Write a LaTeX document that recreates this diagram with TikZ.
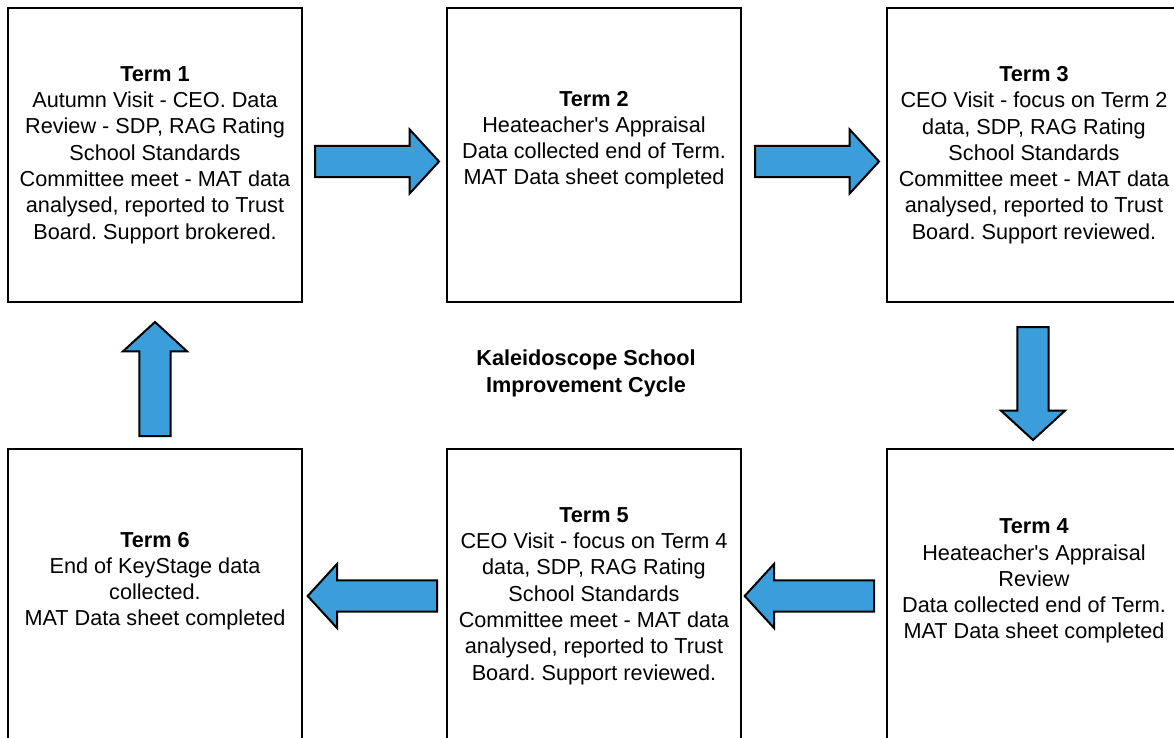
\documentclass[tikz,border=0pt]{standalone}
\usepackage{fontspec}
\setmainfont{Liberation Sans}
\frenchspacing
\usepackage{tikz}
\usetikzlibrary{shapes.arrows,positioning,calc}
\definecolor{arrowblue}{RGB}{59,157,217}
\tikzset{
	termnode/.style = {rectangle, draw=black, line width=1.5pt, align=center,
		minimum width=220.5pt, minimum height=220.5pt, inner sep=0pt,
		font=\fontsize{16.25}{19.7}\selectfont},% boite du trimestre
	blk_arr/.style = {single arrow, draw=black, fill=arrowblue, line width=1.5pt,
		inner xsep=0pt, inner ysep=10.9pt, minimum width=46.5pt, anchor=tail,
		single arrow head extend=12.4pt, single arrow tip angle=95},% fleche pleine
	titlenode/.style = {align=center, font=\fontsize{16.25}{19.7}\selectfont\bfseries}
}
\begin{document}
\begin{tikzpicture}[x=0.75pt,y=-0.75pt]
\useasboundingbox (0,0) rectangle (1174,738);
\node [termnode] (t1) at (155,155) {\textbf{Term 1}\\Autumn Visit - CEO. Data\\Review - SDP, RAG Rating\\School Standards\\Committee meet - MAT data\\analysed, reported to Trust\\Board. Support brokered.};
\node [termnode, right=107.25pt of t1] (t2) {\textbf{Term 2}\\Heateacher\textquotesingle s Appraisal\\Data collected end of Term.\\MAT Data sheet completed\\\strut};
\node [termnode, right=108pt of t2] (t3) {\textbf{Term 3}\\CEO Visit - focus on Term 2\\data, SDP, RAG Rating\\School Standards\\Committee meet - MAT data\\analysed, reported to Trust\\Board. Support reviewed.};
\node [termnode, below=108.75pt of t3] (t4) {\textbf{Term 4}\\Heateacher\textquotesingle s Appraisal\\Review\\Data collected end of Term.\\MAT Data sheet completed\\\strut};
\node [termnode, left=108pt of t4] (t5) {\textbf{Term 5}\\CEO Visit - focus on Term 4\\data, SDP, RAG Rating\\School Standards\\Committee meet - MAT data\\analysed, reported to Trust\\Board. Support reviewed.};
\node [termnode, left=107.25pt of t5] (t6) {\textbf{Term 6}\\End of KeyStage data\\collected.\\MAT Data sheet completed\\\strut};
\node [titlenode] (cycle) at ($(t2.south)!0.5!(t5.north)+(-8,-2)$) {Kaleidoscope School\\Improvement Cycle};
% fleches entre les trimestres
\node [blk_arr, minimum height=93pt] (a12) at ($(t1.east)+(11,6.5)$) {};
\node [blk_arr, minimum height=93pt] (a23) at ($(t2.east)+(12,6.5)$) {};
\node [blk_arr, rotate=-90, minimum height=84.75pt] (a34) at ($(t3.south)+(-1,23)$) {};
\node [blk_arr, rotate=180, minimum height=97pt] (a45) at ($(t4.west)+(-11,0)$) {};
\node [blk_arr, rotate=180, minimum height=97pt] (a56) at ($(t5.west)+(-8,0)$) {};
\node [blk_arr, rotate=90, minimum height=85.5pt] (a61) at ($(t6.north)+(0,-11)$) {};
\end{tikzpicture}
\end{document}
